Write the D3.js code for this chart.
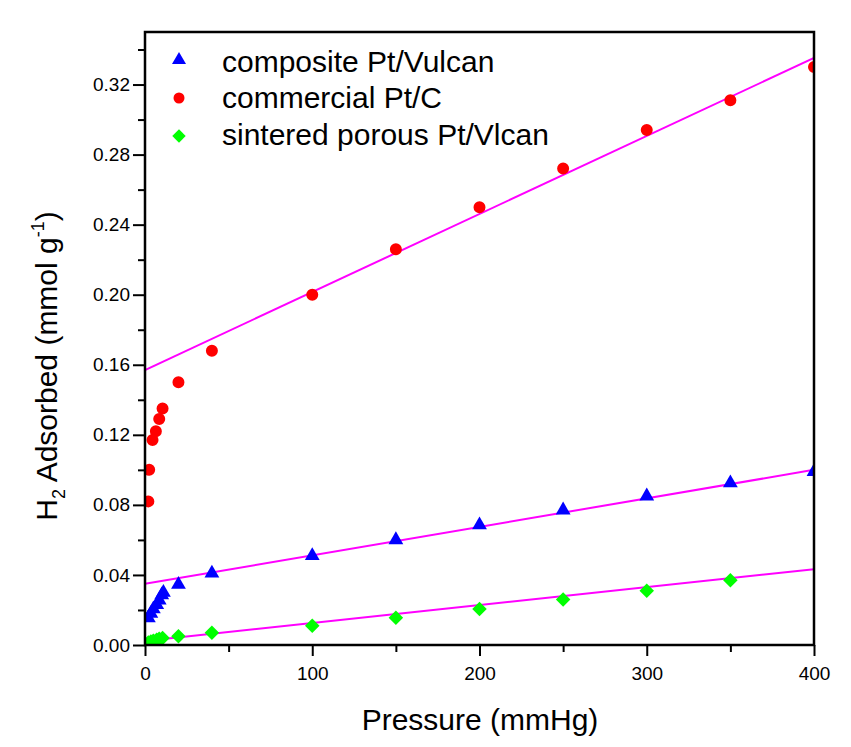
<!DOCTYPE html>
<html>
<head>
<meta charset="utf-8">
<script src="https://cdn.jsdelivr.net/npm/d3@7"></script>
<style>
  html, body { margin: 0; padding: 0; background: #ffffff; }
  svg { display: block; font-family: "Liberation Sans", Arial, sans-serif; }
</style>
</head>
<body>
<svg id="chart" width="851" height="747"></svg>
<script>
// ---------- data ----------
const seriesNames = ["composite Pt/Vulcan", "commercial Pt/C", "sintered porous Pt/Vlcan"];

const compositeP = [2, 3.5, 5, 7, 8.5, 10, 11, 20, 40, 100, 150, 200, 250, 300, 350, 400];
const compositeV = [0.0155, 0.018, 0.0205, 0.023, 0.0255, 0.0285, 0.030, 0.0345, 0.041, 0.051, 0.060, 0.0685, 0.077, 0.085, 0.0925, 0.099];

const commercialP = [2, 2.5, 4.5, 6.5, 8.5, 10.5, 20, 40, 100, 150, 200, 250, 300, 350, 400];
const commercialV = [0.082, 0.100, 0.117, 0.122, 0.129, 0.135, 0.150, 0.168, 0.200, 0.226, 0.250, 0.272, 0.294, 0.311, 0.330];

const sinteredP = [2, 3.5, 5, 7, 8.5, 10.5, 20, 40, 100, 150, 200, 250, 300, 350];
const sinteredV = [0.0015, 0.002, 0.0025, 0.003, 0.0035, 0.004, 0.005, 0.007, 0.011, 0.0155, 0.0205, 0.026, 0.031, 0.037];

// linear fits, evaluated at the ends of the pressure axis
const fitP = [0, 400];
const fitComposite = [0.0349, 0.100];
const fitCommercial = [0.157, 0.3352];
const fitSintered = [0.0023, 0.0433];

const xMajorTicks = [0, 100, 200, 300, 400];
const xMinorTicks = [50, 150, 250, 350];
const yMajorTicks = [0.00, 0.04, 0.08, 0.12, 0.16, 0.20, 0.24, 0.28, 0.32];
const yMinorTicks = [0.02, 0.06, 0.10, 0.14, 0.18, 0.22, 0.26, 0.30, 0.34];

// ---------- layout ----------
const svg = d3.select("#chart");
const M = { left: 145, top: 32, right: 814, bottom: 645 };
const x = d3.scaleLinear().domain([0, 400]).range([M.left, M.right]);
const y = d3.scaleLinear().domain([0, 0.35]).range([M.bottom, M.top]);

svg.append("rect").attr("width", 851).attr("height", 747).attr("fill", "#ffffff");

svg.append("defs").append("clipPath").attr("id", "plotclip")
  .append("rect").attr("x", M.left).attr("y", M.top)
  .attr("width", M.right - M.left).attr("height", M.bottom - M.top);

const plot = svg.append("g").attr("clip-path", "url(#plotclip)");

// fit lines
const line = d3.line().x(d => x(d[0])).y(d => y(d[1]));
[fitComposite, fitCommercial, fitSintered].forEach(f => {
  plot.append("path")
    .attr("d", line(fitP.map((p, i) => [p, f[i]])))
    .attr("fill", "none").attr("stroke", "#ff00ff").attr("stroke-width", 2);
});

// markers
const triSym = d3.symbol().type(d3.symbolTriangle).size(95);
const cirSym = d3.symbol().type(d3.symbolCircle).size(113);
const diaSym = d3.symbol().type(d3.symbolSquare).size(105);

plot.selectAll(".sint").data(sinteredP.map((p, i) => [p, sinteredV[i]])).enter()
  .append("path").attr("d", diaSym)
  .attr("transform", d => `translate(${x(d[0])},${y(d[1])}) rotate(45)`)
  .attr("fill", "#00ff00");
plot.selectAll(".comp").data(compositeP.map((p, i) => [p, compositeV[i]])).enter()
  .append("path").attr("d", triSym)
  .attr("transform", d => `translate(${x(d[0])},${y(d[1])})`)
  .attr("fill", "#0000ff");
plot.selectAll(".comm").data(commercialP.map((p, i) => [p, commercialV[i]])).enter()
  .append("path").attr("d", cirSym)
  .attr("transform", d => `translate(${x(d[0])},${y(d[1])})`)
  .attr("fill", "#ff0000");

// axes
svg.append("g").attr("transform", `translate(0,${M.bottom})`)
  .call(d3.axisBottom(x).tickValues(xMajorTicks).tickSize(11).tickPadding(11).tickFormat(d3.format("d")));
svg.append("g").attr("transform", `translate(0,${M.bottom})`)
  .call(d3.axisBottom(x).tickValues(xMinorTicks).tickSize(7).tickFormat(""));
svg.append("g").attr("transform", `translate(${M.left},0)`)
  .call(d3.axisLeft(y).tickValues(yMajorTicks).tickSize(12).tickPadding(3).tickFormat(d3.format(".2f")));
svg.append("g").attr("transform", `translate(${M.left},0)`)
  .call(d3.axisLeft(y).tickValues(yMinorTicks).tickSize(7).tickFormat(""));

svg.selectAll(".domain").remove();
svg.selectAll(".tick line").attr("stroke", "#000").attr("stroke-width", 2);
svg.selectAll(".tick text").attr("fill", "#000").style("font-size", "19px")
  .style("font-family", "'Liberation Sans', Arial, sans-serif");

// frame
svg.append("rect").attr("x", M.left).attr("y", M.top)
  .attr("width", M.right - M.left).attr("height", M.bottom - M.top)
  .attr("fill", "none").attr("stroke", "#000").attr("stroke-width", 2.5);

// axis titles
svg.append("text").attr("x", 480).attr("y", 730)
  .attr("text-anchor", "middle").style("font-size", "30px").text("Pressure (mmHg)");

const yt = svg.append("text")
  .attr("transform", `translate(57,366) rotate(-90)`)
  .attr("text-anchor", "middle").style("font-size", "30px");
yt.append("tspan").text("H");
yt.append("tspan").attr("dy", 8).style("font-size", "18px").text("2");
yt.append("tspan").attr("dy", -8).text(" Adsorbed (mmol g");
yt.append("tspan").attr("dy", -13).style("font-size", "18px").text("-1");
yt.append("tspan").attr("dy", 13).text(")");

// legend
const legendSyms = [
  { sym: d3.symbol().type(d3.symbolTriangle).size(85), color: "#0000ff", rot: 0 },
  { sym: d3.symbol().type(d3.symbolCircle).size(95), color: "#ff0000", rot: 0 },
  { sym: d3.symbol().type(d3.symbolSquare).size(90), color: "#00ff00", rot: 45 }
];
const legendY = [60, 98, 136];
const legendBase = [72, 108, 145];
seriesNames.forEach((name, i) => {
  svg.append("path").attr("d", legendSyms[i].sym)
    .attr("transform", `translate(179,${legendY[i]}) rotate(${legendSyms[i].rot})`)
    .attr("fill", legendSyms[i].color);
  svg.append("text").attr("x", 222).attr("y", legendBase[i])
    .style("font-size", "30px").attr("fill", "#000").text(name);
});
</script>
</body>
</html>
